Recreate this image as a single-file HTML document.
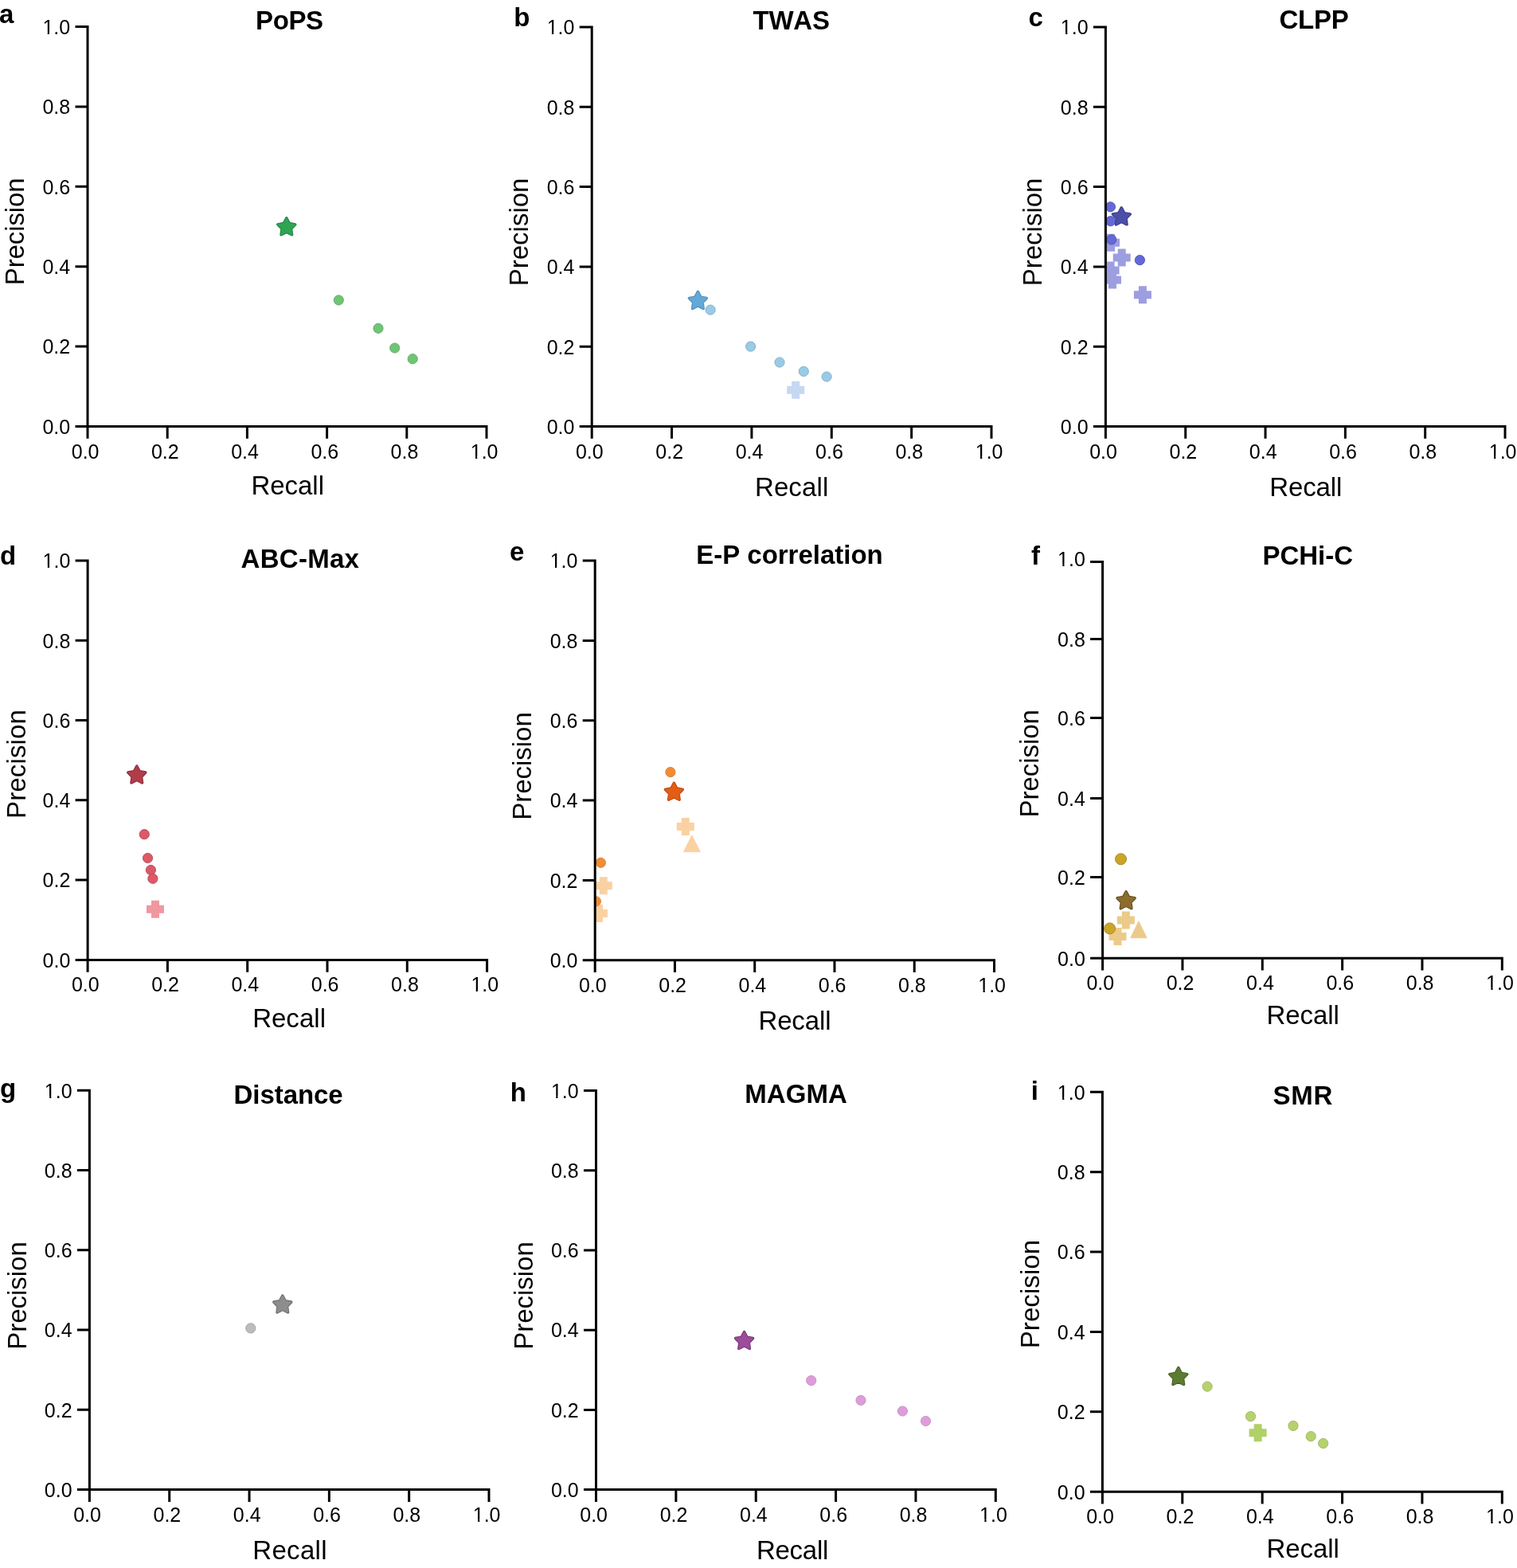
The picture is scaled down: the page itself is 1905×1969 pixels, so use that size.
<!DOCTYPE html>
<html><head><meta charset="utf-8"><title>Precision-recall panels</title>
<style>
html,body{margin:0;padding:0;background:#fff;}
body{width:1905px;height:1969px;overflow:hidden;}
svg{display:block;}
text{font-kerning:none;font-feature-settings:'kern' 0;}
.t{font-family:'Liberation Sans', Arial, Helvetica, sans-serif;font-size:25px;fill:#000;}
.l{font-family:'Liberation Sans', Arial, Helvetica, sans-serif;font-size:33px;fill:#000;}
.b{font-family:'Liberation Sans', Arial, Helvetica, sans-serif;font-size:33px;font-weight:bold;fill:#000;}
</style></head><body>
<svg width="1905" height="1969" viewBox="0 0 1905 1969">
<rect width="1905" height="1969" fill="#fff"/>
<clipPath id="clipa"><rect x="110" y="-6.4" width="541" height="541.9"/></clipPath>
<g clip-path="url(#clipa)">
<circle cx="425.3" cy="376.9" r="6.1" fill="#6cc672" stroke="#72a974" stroke-width="1"/>
<circle cx="475" cy="412.3" r="6.1" fill="#6cc672" stroke="#72a974" stroke-width="1"/>
<circle cx="495.7" cy="437" r="6.1" fill="#6cc672" stroke="#72a974" stroke-width="1"/>
<circle cx="518.2" cy="450.7" r="6.1" fill="#6cc672" stroke="#72a974" stroke-width="1"/>
<path d="M359.8 273.8 L363.33 280.55 L370.83 281.82 L365.51 287.25 L366.62 294.78 L359.8 291.4 L352.98 294.78 L354.09 287.25 L348.77 281.82 L356.27 280.55 Z" fill="#22834a" stroke="#22834a" stroke-width="3.4" stroke-linejoin="round"/><path d="M359.8 273.8 L363.33 280.55 L370.83 281.82 L365.51 287.25 L366.62 294.78 L359.8 291.4 L352.98 294.78 L354.09 287.25 L348.77 281.82 L356.27 280.55 Z" fill="#2fa552" stroke="#2fa552" stroke-width="1.3" stroke-linejoin="round"/>
</g>
<path d="M110 32.1 V537 M108.5 535.5 H612.5 M94.5 535.5 H110 M94.5 435.12 H110 M94.5 334.74 H110 M94.5 234.36 H110 M94.5 133.98 H110 M94.5 33.6 H110 M110 535.5 V550.8 M210.2 535.5 V550.8 M310.4 535.5 V550.8 M410.6 535.5 V550.8 M510.8 535.5 V550.8 M611 535.5 V550.8" stroke="#000" stroke-width="3" fill="none" stroke-linecap="butt"/>
<clipPath id="clipb"><rect x="743.2" y="-6" width="541.8" height="541.5"/></clipPath>
<g clip-path="url(#clipb)">
<path d="M876.4 366.4 L879.93 373.15 L887.43 374.42 L882.11 379.85 L883.22 387.38 L876.4 384 L869.58 387.38 L870.69 379.85 L865.37 374.42 L872.87 373.15 Z" fill="#4f8cbb" stroke="#4f8cbb" stroke-width="3.4" stroke-linejoin="round"/><path d="M876.4 366.4 L879.93 373.15 L887.43 374.42 L882.11 379.85 L883.22 387.38 L876.4 384 L869.58 387.38 L870.69 379.85 L865.37 374.42 L872.87 373.15 Z" fill="#64a8d8" stroke="#64a8d8" stroke-width="1.3" stroke-linejoin="round"/>
<circle cx="892.1" cy="389.1" r="6.1" fill="#99cae6" stroke="#86b1ca" stroke-width="1"/>
<circle cx="942.6" cy="435.1" r="6.1" fill="#99cae6" stroke="#86b1ca" stroke-width="1"/>
<circle cx="979" cy="455" r="6.1" fill="#99cae6" stroke="#86b1ca" stroke-width="1"/>
<circle cx="1009.3" cy="466.4" r="6.1" fill="#99cae6" stroke="#86b1ca" stroke-width="1"/>
<circle cx="1038.1" cy="473" r="6.1" fill="#99cae6" stroke="#86b1ca" stroke-width="1"/>
<path d="M994.2 478.7 L1004.2 478.7 L1004.2 484.7 L1010.2 484.7 L1010.2 494.7 L1004.2 494.7 L1004.2 500.7 L994.2 500.7 L994.2 494.7 L988.2 494.7 L988.2 484.7 L994.2 484.7 Z" fill="#c6d7f2"/>
</g>
<path d="M743.2 32.5 V537 M741.7 535.5 H1246.5 M727.7 535.5 H743.2 M727.7 435.2 H743.2 M727.7 334.9 H743.2 M727.7 234.6 H743.2 M727.7 134.3 H743.2 M727.7 34 H743.2 M743.2 535.5 V550.8 M843.56 535.5 V550.8 M943.92 535.5 V550.8 M1044.28 535.5 V550.8 M1144.64 535.5 V550.8 M1245 535.5 V550.8" stroke="#000" stroke-width="3" fill="none" stroke-linecap="butt"/>
<clipPath id="clipc"><rect x="1388.4" y="-6" width="541.6" height="541.5"/></clipPath>
<g clip-path="url(#clipc)">
<path d="M1390 293.8 L1400 293.8 L1400 299.8 L1406 299.8 L1406 309.8 L1400 309.8 L1400 315.8 L1390 315.8 L1390 309.8 L1384 309.8 L1384 299.8 L1390 299.8 Z" fill="#9c9ee0"/>
<path d="M1403.7 312.5 L1413.7 312.5 L1413.7 318.5 L1419.7 318.5 L1419.7 328.5 L1413.7 328.5 L1413.7 334.5 L1403.7 334.5 L1403.7 328.5 L1397.7 328.5 L1397.7 318.5 L1403.7 318.5 Z" fill="#9c9ee0"/>
<path d="M1389.6 328.4 L1399.6 328.4 L1399.6 334.4 L1405.6 334.4 L1405.6 344.4 L1399.6 344.4 L1399.6 350.4 L1389.6 350.4 L1389.6 344.4 L1383.6 344.4 L1383.6 334.4 L1389.6 334.4 Z" fill="#9c9ee0"/>
<path d="M1392 340.5 L1402 340.5 L1402 346.5 L1408 346.5 L1408 356.5 L1402 356.5 L1402 362.5 L1392 362.5 L1392 356.5 L1386 356.5 L1386 346.5 L1392 346.5 Z" fill="#9c9ee0"/>
<path d="M1429.9 359.2 L1439.9 359.2 L1439.9 365.2 L1445.9 365.2 L1445.9 375.2 L1439.9 375.2 L1439.9 381.2 L1429.9 381.2 L1429.9 375.2 L1423.9 375.2 L1423.9 365.2 L1429.9 365.2 Z" fill="#9c9ee0"/>
<circle cx="1394.4" cy="259.8" r="6.1" fill="#6468d8" stroke="#5558ae" stroke-width="1"/>
<circle cx="1394.6" cy="277.7" r="6.1" fill="#6468d8" stroke="#5558ae" stroke-width="1"/>
<circle cx="1395.7" cy="300.9" r="6.1" fill="#6468d8" stroke="#5558ae" stroke-width="1"/>
<circle cx="1431.4" cy="326.6" r="6.1" fill="#6468d8" stroke="#5558ae" stroke-width="1"/>
<path d="M1408.3 260.9 L1411.83 267.65 L1419.33 268.92 L1414.01 274.35 L1415.12 281.88 L1408.3 278.5 L1401.48 281.88 L1402.59 274.35 L1397.27 268.92 L1404.77 267.65 Z" fill="#383b88" stroke="#383b88" stroke-width="3.4" stroke-linejoin="round"/><path d="M1408.3 260.9 L1411.83 267.65 L1419.33 268.92 L1414.01 274.35 L1415.12 281.88 L1408.3 278.5 L1401.48 281.88 L1402.59 274.35 L1397.27 268.92 L1404.77 267.65 Z" fill="#4c4fa8" stroke="#4c4fa8" stroke-width="1.3" stroke-linejoin="round"/>
</g>
<path d="M1388.4 32.5 V537 M1386.9 535.5 H1891.5 M1372.9 535.5 H1388.4 M1372.9 435.2 H1388.4 M1372.9 334.9 H1388.4 M1372.9 234.6 H1388.4 M1372.9 134.3 H1388.4 M1372.9 34 H1388.4 M1388.4 535.5 V550.8 M1488.72 535.5 V550.8 M1589.04 535.5 V550.8 M1689.36 535.5 V550.8 M1789.68 535.5 V550.8 M1890 535.5 V550.8" stroke="#000" stroke-width="3" fill="none" stroke-linecap="butt"/>
<clipPath id="clipd"><rect x="110.1" y="663.9" width="541.5" height="541.5"/></clipPath>
<g clip-path="url(#clipd)">
<circle cx="181.3" cy="1047.7" r="6.1" fill="#de5866" stroke="#b5505e" stroke-width="1"/>
<circle cx="185.5" cy="1077.5" r="6.1" fill="#de5866" stroke="#b5505e" stroke-width="1"/>
<circle cx="189.4" cy="1092.5" r="6.1" fill="#de5866" stroke="#b5505e" stroke-width="1"/>
<circle cx="191.9" cy="1103.3" r="6.1" fill="#de5866" stroke="#b5505e" stroke-width="1"/>
<path d="M190 1130.8 L200 1130.8 L200 1136.8 L206 1136.8 L206 1146.8 L200 1146.8 L200 1152.8 L190 1152.8 L190 1146.8 L184 1146.8 L184 1136.8 L190 1136.8 Z" fill="#ef98a0"/>
<path d="M171.8 962 L175.33 968.75 L182.83 970.02 L177.51 975.45 L178.62 982.98 L171.8 979.6 L164.98 982.98 L166.09 975.45 L160.77 970.02 L168.27 968.75 Z" fill="#8a2d38" stroke="#8a2d38" stroke-width="3.4" stroke-linejoin="round"/><path d="M171.8 962 L175.33 968.75 L182.83 970.02 L177.51 975.45 L178.62 982.98 L171.8 979.6 L164.98 982.98 L166.09 975.45 L160.77 970.02 L168.27 968.75 Z" fill="#b23d4a" stroke="#b23d4a" stroke-width="1.3" stroke-linejoin="round"/>
</g>
<path d="M110.1 702.4 V1206.9 M108.6 1205.4 H613.1 M94.6 1205.4 H110.1 M94.6 1105.1 H110.1 M94.6 1004.8 H110.1 M94.6 904.5 H110.1 M94.6 804.2 H110.1 M94.6 703.9 H110.1 M110.1 1205.4 V1220.7 M210.4 1205.4 V1220.7 M310.7 1205.4 V1220.7 M411 1205.4 V1220.7 M511.3 1205.4 V1220.7 M611.6 1205.4 V1220.7" stroke="#000" stroke-width="3" fill="none" stroke-linecap="butt"/>
<clipPath id="clipe"><rect x="747.2" y="664.1" width="541.3" height="541.7"/></clipPath>
<g clip-path="url(#clipe)">
<path d="M855.8 1027 L865.8 1027 L865.8 1033 L871.8 1033 L871.8 1043 L865.8 1043 L865.8 1049 L855.8 1049 L855.8 1043 L849.8 1043 L849.8 1033 L855.8 1033 Z" fill="#fad1a2"/>
<path d="M868.9 1048.9 L879.3 1069.7 L858.5 1069.7 Z" fill="#fad1a2" stroke="#fad1a2" stroke-width="1" stroke-linejoin="round"/>
<path d="M752.8 1101.2 L762.8 1101.2 L762.8 1107.2 L768.8 1107.2 L768.8 1117.2 L762.8 1117.2 L762.8 1123.2 L752.8 1123.2 L752.8 1117.2 L746.8 1117.2 L746.8 1107.2 L752.8 1107.2 Z" fill="#fad1a2"/>
<path d="M747 1136 L757 1136 L757 1142 L763 1142 L763 1152 L757 1152 L757 1158 L747 1158 L747 1152 L741 1152 L741 1142 L747 1142 Z" fill="#fad1a2"/>
<circle cx="841.9" cy="969.6" r="6.1" fill="#f28c34" stroke="#dc843c" stroke-width="1"/>
<circle cx="754.4" cy="1083.3" r="6.1" fill="#f28c34" stroke="#dc843c" stroke-width="1"/>
<circle cx="748.4" cy="1131.8" r="6.1" fill="#f28c34" stroke="#dc843c" stroke-width="1"/>
<path d="M846.4 983.3 L849.93 990.05 L857.43 991.32 L852.11 996.75 L853.22 1004.28 L846.4 1000.9 L839.58 1004.28 L840.69 996.75 L835.37 991.32 L842.87 990.05 Z" fill="#bb4a0c" stroke="#bb4a0c" stroke-width="3.4" stroke-linejoin="round"/><path d="M846.4 983.3 L849.93 990.05 L857.43 991.32 L852.11 996.75 L853.22 1004.28 L846.4 1000.9 L839.58 1004.28 L840.69 996.75 L835.37 991.32 L842.87 990.05 Z" fill="#e45d14" stroke="#e45d14" stroke-width="1.3" stroke-linejoin="round"/>
</g>
<path d="M747.2 702.6 V1207.3 M745.7 1205.8 H1250 M731.7 1205.8 H747.2 M731.7 1105.46 H747.2 M731.7 1005.12 H747.2 M731.7 904.78 H747.2 M731.7 804.44 H747.2 M731.7 704.1 H747.2 M747.2 1205.8 V1221.1 M847.46 1205.8 V1221.1 M947.72 1205.8 V1221.1 M1047.98 1205.8 V1221.1 M1148.24 1205.8 V1221.1 M1248.5 1205.8 V1221.1" stroke="#000" stroke-width="3" fill="none" stroke-linecap="butt"/>
<clipPath id="clipf"><rect x="1384.6" y="665.5" width="541.7" height="537.7"/></clipPath>
<g clip-path="url(#clipf)">
<path d="M1408.8 1144.4 L1418.8 1144.4 L1418.8 1150.4 L1424.8 1150.4 L1424.8 1160.4 L1418.8 1160.4 L1418.8 1166.4 L1408.8 1166.4 L1408.8 1160.4 L1402.8 1160.4 L1402.8 1150.4 L1408.8 1150.4 Z" fill="#ecca8a"/>
<path d="M1429.9 1156.9 L1440 1177.7 L1419.8 1177.7 Z" fill="#ecca8a" stroke="#ecca8a" stroke-width="1" stroke-linejoin="round"/>
<path d="M1398.5 1165 L1408.5 1165 L1408.5 1171 L1414.5 1171 L1414.5 1181 L1408.5 1181 L1408.5 1187 L1398.5 1187 L1398.5 1181 L1392.5 1181 L1392.5 1171 L1398.5 1171 Z" fill="#ecca8a"/>
<circle cx="1407.5" cy="1078.8" r="7" fill="#cba528" stroke="#aa8c2c" stroke-width="1"/>
<circle cx="1393.6" cy="1165.9" r="7" fill="#cba528" stroke="#aa8c2c" stroke-width="1"/>
<path d="M1414.1 1119.7 L1417.63 1126.45 L1425.13 1127.72 L1419.81 1133.15 L1420.92 1140.68 L1414.1 1137.3 L1407.28 1140.68 L1408.39 1133.15 L1403.07 1127.72 L1410.57 1126.45 Z" fill="#5c4a1e" stroke="#5c4a1e" stroke-width="3.4" stroke-linejoin="round"/><path d="M1414.1 1119.7 L1417.63 1126.45 L1425.13 1127.72 L1419.81 1133.15 L1420.92 1140.68 L1414.1 1137.3 L1407.28 1140.68 L1408.39 1133.15 L1403.07 1127.72 L1410.57 1126.45 Z" fill="#8e6c2c" stroke="#8e6c2c" stroke-width="1.3" stroke-linejoin="round"/>
</g>
<path d="M1384.6 704 V1204.7 M1383.1 1203.2 H1887.8 M1369.1 1203.2 H1384.6 M1369.1 1101.5 H1384.6 M1369.1 1002.5 H1384.6 M1369.1 901.4 H1384.6 M1369.1 802.6 H1384.6 M1369.1 705.6 H1384.6 M1384.6 1203.2 V1218.5 M1484.94 1203.2 V1218.5 M1585.28 1203.2 V1218.5 M1685.62 1203.2 V1218.5 M1785.96 1203.2 V1218.5 M1886.3 1203.2 V1218.5" stroke="#000" stroke-width="3" fill="none" stroke-linecap="butt"/>
<clipPath id="clipg"><rect x="112.4" y="1329.2" width="541.6" height="541.4"/></clipPath>
<g clip-path="url(#clipg)">
<circle cx="314.8" cy="1667.9" r="6.1" fill="#bcbcbc" stroke="#a4a4a4" stroke-width="1"/>
<path d="M354.8 1627 L358.33 1633.75 L365.83 1635.02 L360.51 1640.45 L361.62 1647.98 L354.8 1644.6 L347.98 1647.98 L349.09 1640.45 L343.77 1635.02 L351.27 1633.75 Z" fill="#6c6c6c" stroke="#6c6c6c" stroke-width="3.4" stroke-linejoin="round"/><path d="M354.8 1627 L358.33 1633.75 L365.83 1635.02 L360.51 1640.45 L361.62 1647.98 L354.8 1644.6 L347.98 1647.98 L349.09 1640.45 L343.77 1635.02 L351.27 1633.75 Z" fill="#8d8d8d" stroke="#8d8d8d" stroke-width="1.3" stroke-linejoin="round"/>
</g>
<path d="M112.4 1367.7 V1872.1 M110.9 1870.6 H615.5 M96.9 1870.6 H112.4 M96.9 1770.32 H112.4 M96.9 1670.04 H112.4 M96.9 1569.76 H112.4 M96.9 1469.48 H112.4 M96.9 1369.2 H112.4 M112.4 1870.6 V1885.9 M212.72 1870.6 V1885.9 M313.04 1870.6 V1885.9 M413.36 1870.6 V1885.9 M513.68 1870.6 V1885.9 M614 1870.6 V1885.9" stroke="#000" stroke-width="3" fill="none" stroke-linecap="butt"/>
<clipPath id="cliph"><rect x="748.5" y="1329.5" width="541.8" height="541.1"/></clipPath>
<g clip-path="url(#cliph)">
<circle cx="1018.7" cy="1733.6" r="6.1" fill="#df9cdc" stroke="#c596c4" stroke-width="1"/>
<circle cx="1081" cy="1758.4" r="6.1" fill="#df9cdc" stroke="#c596c4" stroke-width="1"/>
<circle cx="1133.4" cy="1772" r="6.1" fill="#df9cdc" stroke="#c596c4" stroke-width="1"/>
<circle cx="1162.5" cy="1784.5" r="6.1" fill="#df9cdc" stroke="#c596c4" stroke-width="1"/>
<path d="M934.6 1672.5 L938.13 1679.25 L945.63 1680.52 L940.31 1685.95 L941.42 1693.48 L934.6 1690.1 L927.78 1693.48 L928.89 1685.95 L923.57 1680.52 L931.07 1679.25 Z" fill="#773577" stroke="#773577" stroke-width="3.4" stroke-linejoin="round"/><path d="M934.6 1672.5 L938.13 1679.25 L945.63 1680.52 L940.31 1685.95 L941.42 1693.48 L934.6 1690.1 L927.78 1693.48 L928.89 1685.95 L923.57 1680.52 L931.07 1679.25 Z" fill="#9c4c9a" stroke="#9c4c9a" stroke-width="1.3" stroke-linejoin="round"/>
</g>
<path d="M748.5 1368 V1872.1 M747 1870.6 H1251.8 M733 1870.6 H748.5 M733 1770.38 H748.5 M733 1670.16 H748.5 M733 1569.94 H748.5 M733 1469.72 H748.5 M733 1369.5 H748.5 M748.5 1870.6 V1885.9 M848.86 1870.6 V1885.9 M949.22 1870.6 V1885.9 M1049.58 1870.6 V1885.9 M1149.94 1870.6 V1885.9 M1250.3 1870.6 V1885.9" stroke="#000" stroke-width="3" fill="none" stroke-linecap="butt"/>
<clipPath id="clipi"><rect x="1384.4" y="1331.3" width="541.9" height="541.9"/></clipPath>
<g clip-path="url(#clipi)">
<path d="M1574.6 1788.2 L1584.6 1788.2 L1584.6 1794.2 L1590.6 1794.2 L1590.6 1804.2 L1584.6 1804.2 L1584.6 1810.2 L1574.6 1810.2 L1574.6 1804.2 L1568.6 1804.2 L1568.6 1794.2 L1574.6 1794.2 Z" fill="#b0d068"/>
<circle cx="1516.1" cy="1741.1" r="6.1" fill="#b5d26c" stroke="#a2b86c" stroke-width="1"/>
<circle cx="1570.5" cy="1778.6" r="6.1" fill="#b5d26c" stroke="#a2b86c" stroke-width="1"/>
<circle cx="1624" cy="1790.4" r="6.1" fill="#b5d26c" stroke="#a2b86c" stroke-width="1"/>
<circle cx="1646.2" cy="1803.7" r="6.1" fill="#b5d26c" stroke="#a2b86c" stroke-width="1"/>
<circle cx="1661.6" cy="1812.5" r="6.1" fill="#b5d26c" stroke="#a2b86c" stroke-width="1"/>
<path d="M1479.8 1717.6 L1483.33 1724.35 L1490.83 1725.62 L1485.51 1731.05 L1486.62 1738.58 L1479.8 1735.2 L1472.98 1738.58 L1474.09 1731.05 L1468.77 1725.62 L1476.27 1724.35 Z" fill="#465e21" stroke="#465e21" stroke-width="3.4" stroke-linejoin="round"/><path d="M1479.8 1717.6 L1483.33 1724.35 L1490.83 1725.62 L1485.51 1731.05 L1486.62 1738.58 L1479.8 1735.2 L1472.98 1738.58 L1474.09 1731.05 L1468.77 1725.62 L1476.27 1724.35 Z" fill="#5c7c32" stroke="#5c7c32" stroke-width="1.3" stroke-linejoin="round"/>
</g>
<path d="M1384.4 1369.8 V1874.7 M1382.9 1873.2 H1887.8 M1368.9 1873.2 H1384.4 M1368.9 1772.82 H1384.4 M1368.9 1672.44 H1384.4 M1368.9 1572.06 H1384.4 M1368.9 1471.68 H1384.4 M1368.9 1371.3 H1384.4 M1384.4 1873.2 V1888.5 M1484.78 1873.2 V1888.5 M1585.16 1873.2 V1888.5 M1685.54 1873.2 V1888.5 M1785.92 1873.2 V1888.5 M1886.3 1873.2 V1888.5" stroke="#000" stroke-width="3" fill="none" stroke-linecap="butt"/>
<text x="88.2" y="544.8" text-anchor="end" class="t">0.0</text>
<text x="88.2" y="444.42" text-anchor="end" class="t">0.2</text>
<text x="88.2" y="344.04" text-anchor="end" class="t">0.4</text>
<text x="88.2" y="243.66" text-anchor="end" class="t">0.6</text>
<text x="88.2" y="143.28" text-anchor="end" class="t">0.8</text>
<clipPath id="k1ya"><rect x="51.45" y="12.9" width="38.75" height="27.23"/><rect x="59.73" y="40.03" width="2.21" height="5.87"/><rect x="67.35" y="12.9" width="22.85" height="36"/></clipPath><text x="88.2" y="42.9" text-anchor="end" class="t" clip-path="url(#k1ya)">1.0</text>
<text x="107.16" y="575.5" text-anchor="middle" class="t">0.0</text>
<text x="207.36" y="575.5" text-anchor="middle" class="t">0.2</text>
<text x="307.56" y="575.5" text-anchor="middle" class="t">0.4</text>
<text x="407.76" y="575.5" text-anchor="middle" class="t">0.6</text>
<text x="507.96" y="575.5" text-anchor="middle" class="t">0.8</text>
<clipPath id="k1xa"><rect x="588.78" y="545.5" width="38.75" height="27.23"/><rect x="597.07" y="572.63" width="2.21" height="5.87"/><rect x="604.69" y="545.5" width="22.85" height="36"/></clipPath><text x="608.16" y="575.5" text-anchor="middle" class="t" clip-path="url(#k1xa)">1.0</text>
<text x="-0.9" y="28.5" class="b">a</text>
<text x="363.55" y="36.5" text-anchor="middle" class="b" textLength="85.12" lengthAdjust="spacing">PoPS</text>
<text x="361.25" y="621.4" text-anchor="middle" class="l" textLength="91.45" lengthAdjust="spacing">Recall</text>
<text transform="translate(30 290.8) rotate(-90)" text-anchor="middle" class="l" textLength="134.78" lengthAdjust="spacing">Precision</text>
<text x="721.4" y="544.8" text-anchor="end" class="t">0.0</text>
<text x="721.4" y="444.5" text-anchor="end" class="t">0.2</text>
<text x="721.4" y="344.2" text-anchor="end" class="t">0.4</text>
<text x="721.4" y="243.9" text-anchor="end" class="t">0.6</text>
<text x="721.4" y="143.6" text-anchor="end" class="t">0.8</text>
<clipPath id="k1yb"><rect x="684.65" y="13.3" width="38.75" height="27.23"/><rect x="692.93" y="40.43" width="2.21" height="5.87"/><rect x="700.55" y="13.3" width="22.85" height="36"/></clipPath><text x="721.4" y="43.3" text-anchor="end" class="t" clip-path="url(#k1yb)">1.0</text>
<text x="740.36" y="575.5" text-anchor="middle" class="t">0.0</text>
<text x="840.72" y="575.5" text-anchor="middle" class="t">0.2</text>
<text x="941.08" y="575.5" text-anchor="middle" class="t">0.4</text>
<text x="1041.44" y="575.5" text-anchor="middle" class="t">0.6</text>
<text x="1141.8" y="575.5" text-anchor="middle" class="t">0.8</text>
<clipPath id="k1xb"><rect x="1222.78" y="545.5" width="38.75" height="27.23"/><rect x="1231.07" y="572.63" width="2.21" height="5.87"/><rect x="1238.69" y="545.5" width="22.85" height="36"/></clipPath><text x="1242.16" y="575.5" text-anchor="middle" class="t" clip-path="url(#k1xb)">1.0</text>
<text x="645.2" y="33.1" class="b">b</text>
<text x="993.7" y="37.4" text-anchor="middle" class="b" textLength="96.39" lengthAdjust="spacing">TWAS</text>
<text x="994.1" y="622.5" text-anchor="middle" class="l" textLength="92.35" lengthAdjust="spacing">Recall</text>
<text transform="translate(663.1 291.4) rotate(-90)" text-anchor="middle" class="l" textLength="135.78" lengthAdjust="spacing">Precision</text>
<text x="1366.6" y="544.8" text-anchor="end" class="t">0.0</text>
<text x="1366.6" y="444.5" text-anchor="end" class="t">0.2</text>
<text x="1366.6" y="344.2" text-anchor="end" class="t">0.4</text>
<text x="1366.6" y="243.9" text-anchor="end" class="t">0.6</text>
<text x="1366.6" y="143.6" text-anchor="end" class="t">0.8</text>
<clipPath id="k1yc"><rect x="1329.85" y="13.3" width="38.75" height="27.23"/><rect x="1338.13" y="40.43" width="2.21" height="5.87"/><rect x="1345.75" y="13.3" width="22.85" height="36"/></clipPath><text x="1366.6" y="43.3" text-anchor="end" class="t" clip-path="url(#k1yc)">1.0</text>
<text x="1385.56" y="575.5" text-anchor="middle" class="t">0.0</text>
<text x="1485.88" y="575.5" text-anchor="middle" class="t">0.2</text>
<text x="1586.2" y="575.5" text-anchor="middle" class="t">0.4</text>
<text x="1686.52" y="575.5" text-anchor="middle" class="t">0.6</text>
<text x="1786.84" y="575.5" text-anchor="middle" class="t">0.8</text>
<clipPath id="k1xc"><rect x="1867.78" y="545.5" width="38.75" height="27.23"/><rect x="1876.07" y="572.63" width="2.21" height="5.87"/><rect x="1883.69" y="545.5" width="22.85" height="36"/></clipPath><text x="1887.16" y="575.5" text-anchor="middle" class="t" clip-path="url(#k1xc)">1.0</text>
<text x="1291.5" y="32.7" class="b">c</text>
<text x="1650.1" y="36.2" text-anchor="middle" class="b" textLength="87.25" lengthAdjust="spacing">CLPP</text>
<text x="1639.75" y="622.5" text-anchor="middle" class="l" textLength="91.05" lengthAdjust="spacing">Recall</text>
<text transform="translate(1308.2 291.4) rotate(-90)" text-anchor="middle" class="l" textLength="135.78" lengthAdjust="spacing">Precision</text>
<text x="88.3" y="1214.7" text-anchor="end" class="t">0.0</text>
<text x="88.3" y="1114.4" text-anchor="end" class="t">0.2</text>
<text x="88.3" y="1014.1" text-anchor="end" class="t">0.4</text>
<text x="88.3" y="913.8" text-anchor="end" class="t">0.6</text>
<text x="88.3" y="813.5" text-anchor="end" class="t">0.8</text>
<clipPath id="k1yd"><rect x="51.55" y="683.2" width="38.75" height="27.23"/><rect x="59.83" y="710.33" width="2.21" height="5.87"/><rect x="67.45" y="683.2" width="22.85" height="36"/></clipPath><text x="88.3" y="713.2" text-anchor="end" class="t" clip-path="url(#k1yd)">1.0</text>
<text x="107.26" y="1245.4" text-anchor="middle" class="t">0.0</text>
<text x="207.56" y="1245.4" text-anchor="middle" class="t">0.2</text>
<text x="307.86" y="1245.4" text-anchor="middle" class="t">0.4</text>
<text x="408.16" y="1245.4" text-anchor="middle" class="t">0.6</text>
<text x="508.46" y="1245.4" text-anchor="middle" class="t">0.8</text>
<clipPath id="k1xd"><rect x="589.38" y="1215.4" width="38.75" height="27.23"/><rect x="597.67" y="1242.53" width="2.21" height="5.87"/><rect x="605.29" y="1215.4" width="22.85" height="36"/></clipPath><text x="608.76" y="1245.4" text-anchor="middle" class="t" clip-path="url(#k1xd)">1.0</text>
<text x="-0.1" y="708.5" class="b">d</text>
<text x="376.8" y="713.3" text-anchor="middle" class="b" textLength="148.35" lengthAdjust="spacing">ABC-Max</text>
<text x="363.05" y="1290.3" text-anchor="middle" class="l" textLength="91.85" lengthAdjust="spacing">Recall</text>
<text transform="translate(32.3 959.55) rotate(-90)" text-anchor="middle" class="l" textLength="136.68" lengthAdjust="spacing">Precision</text>
<text x="725.4" y="1215.1" text-anchor="end" class="t">0.0</text>
<text x="725.4" y="1114.76" text-anchor="end" class="t">0.2</text>
<text x="725.4" y="1014.42" text-anchor="end" class="t">0.4</text>
<text x="725.4" y="914.08" text-anchor="end" class="t">0.6</text>
<text x="725.4" y="813.74" text-anchor="end" class="t">0.8</text>
<clipPath id="k1ye"><rect x="688.65" y="683.4" width="38.75" height="27.23"/><rect x="696.93" y="710.53" width="2.21" height="5.87"/><rect x="704.55" y="683.4" width="22.85" height="36"/></clipPath><text x="725.4" y="713.4" text-anchor="end" class="t" clip-path="url(#k1ye)">1.0</text>
<text x="744.36" y="1245.8" text-anchor="middle" class="t">0.0</text>
<text x="844.62" y="1245.8" text-anchor="middle" class="t">0.2</text>
<text x="944.88" y="1245.8" text-anchor="middle" class="t">0.4</text>
<text x="1045.14" y="1245.8" text-anchor="middle" class="t">0.6</text>
<text x="1145.4" y="1245.8" text-anchor="middle" class="t">0.8</text>
<clipPath id="k1xe"><rect x="1226.28" y="1215.8" width="38.75" height="27.23"/><rect x="1234.57" y="1242.93" width="2.21" height="5.87"/><rect x="1242.19" y="1215.8" width="22.85" height="36"/></clipPath><text x="1245.66" y="1245.8" text-anchor="middle" class="t" clip-path="url(#k1xe)">1.0</text>
<text x="639.9" y="704.3" class="b">e</text>
<text x="991.45" y="708.2" text-anchor="middle" class="b" textLength="234.53" lengthAdjust="spacing">E-P correlation</text>
<text x="997.95" y="1293" text-anchor="middle" class="l" textLength="91.05" lengthAdjust="spacing">Recall</text>
<text transform="translate(667.4 962) rotate(-90)" text-anchor="middle" class="l" textLength="135.58" lengthAdjust="spacing">Precision</text>
<text x="1362.8" y="1212.5" text-anchor="end" class="t">0.0</text>
<text x="1362.8" y="1110.8" text-anchor="end" class="t">0.2</text>
<text x="1362.8" y="1011.8" text-anchor="end" class="t">0.4</text>
<text x="1362.8" y="910.7" text-anchor="end" class="t">0.6</text>
<text x="1362.8" y="811.9" text-anchor="end" class="t">0.8</text>
<clipPath id="k1yf"><rect x="1326.05" y="681" width="38.75" height="27.23"/><rect x="1334.33" y="708.13" width="2.21" height="5.87"/><rect x="1341.95" y="681" width="22.85" height="36"/></clipPath><text x="1362.8" y="711" text-anchor="end" class="t" clip-path="url(#k1yf)">1.0</text>
<text x="1381.76" y="1243.2" text-anchor="middle" class="t">0.0</text>
<text x="1482.1" y="1243.2" text-anchor="middle" class="t">0.2</text>
<text x="1582.44" y="1243.2" text-anchor="middle" class="t">0.4</text>
<text x="1682.78" y="1243.2" text-anchor="middle" class="t">0.6</text>
<text x="1783.12" y="1243.2" text-anchor="middle" class="t">0.8</text>
<clipPath id="k1xf"><rect x="1864.08" y="1213.2" width="38.75" height="27.23"/><rect x="1872.37" y="1240.33" width="2.21" height="5.87"/><rect x="1879.99" y="1213.2" width="22.85" height="36"/></clipPath><text x="1883.46" y="1243.2" text-anchor="middle" class="t" clip-path="url(#k1xf)">1.0</text>
<text x="1295.1" y="708.5" class="b">f</text>
<text x="1642.3" y="709.2" text-anchor="middle" class="b" textLength="113.52" lengthAdjust="spacing">PCHi-C</text>
<text x="1636.2" y="1286.3" text-anchor="middle" class="l" textLength="91.35" lengthAdjust="spacing">Recall</text>
<text transform="translate(1304 958.85) rotate(-90)" text-anchor="middle" class="l" textLength="135.48" lengthAdjust="spacing">Precision</text>
<text x="90.6" y="1879.9" text-anchor="end" class="t">0.0</text>
<text x="90.6" y="1779.62" text-anchor="end" class="t">0.2</text>
<text x="90.6" y="1679.34" text-anchor="end" class="t">0.4</text>
<text x="90.6" y="1579.06" text-anchor="end" class="t">0.6</text>
<text x="90.6" y="1478.78" text-anchor="end" class="t">0.8</text>
<clipPath id="k1yg"><rect x="53.85" y="1348.5" width="38.75" height="27.23"/><rect x="62.13" y="1375.63" width="2.21" height="5.87"/><rect x="69.75" y="1348.5" width="22.85" height="36"/></clipPath><text x="90.6" y="1378.5" text-anchor="end" class="t" clip-path="url(#k1yg)">1.0</text>
<text x="109.56" y="1910.6" text-anchor="middle" class="t">0.0</text>
<text x="209.88" y="1910.6" text-anchor="middle" class="t">0.2</text>
<text x="310.2" y="1910.6" text-anchor="middle" class="t">0.4</text>
<text x="410.52" y="1910.6" text-anchor="middle" class="t">0.6</text>
<text x="510.84" y="1910.6" text-anchor="middle" class="t">0.8</text>
<clipPath id="k1xg"><rect x="591.78" y="1880.6" width="38.75" height="27.23"/><rect x="600.07" y="1907.73" width="2.21" height="5.87"/><rect x="607.69" y="1880.6" width="22.85" height="36"/></clipPath><text x="611.16" y="1910.6" text-anchor="middle" class="t" clip-path="url(#k1xg)">1.0</text>
<text x="-0.1" y="1377.5" class="b">g</text>
<text x="362.1" y="1386.4" text-anchor="middle" class="b" textLength="137.22" lengthAdjust="spacing">Distance</text>
<text x="363.9" y="1958.4" text-anchor="middle" class="l" textLength="93.35" lengthAdjust="spacing">Recall</text>
<text transform="translate(32.9 1627) rotate(-90)" text-anchor="middle" class="l" textLength="135.58" lengthAdjust="spacing">Precision</text>
<text x="726.7" y="1879.9" text-anchor="end" class="t">0.0</text>
<text x="726.7" y="1779.68" text-anchor="end" class="t">0.2</text>
<text x="726.7" y="1679.46" text-anchor="end" class="t">0.4</text>
<text x="726.7" y="1579.24" text-anchor="end" class="t">0.6</text>
<text x="726.7" y="1479.02" text-anchor="end" class="t">0.8</text>
<clipPath id="k1yh"><rect x="689.95" y="1348.8" width="38.75" height="27.23"/><rect x="698.23" y="1375.93" width="2.21" height="5.87"/><rect x="705.85" y="1348.8" width="22.85" height="36"/></clipPath><text x="726.7" y="1378.8" text-anchor="end" class="t" clip-path="url(#k1yh)">1.0</text>
<text x="745.66" y="1910.6" text-anchor="middle" class="t">0.0</text>
<text x="846.02" y="1910.6" text-anchor="middle" class="t">0.2</text>
<text x="946.38" y="1910.6" text-anchor="middle" class="t">0.4</text>
<text x="1046.74" y="1910.6" text-anchor="middle" class="t">0.6</text>
<text x="1147.1" y="1910.6" text-anchor="middle" class="t">0.8</text>
<clipPath id="k1xh"><rect x="1228.08" y="1880.6" width="38.75" height="27.23"/><rect x="1236.37" y="1907.73" width="2.21" height="5.87"/><rect x="1243.99" y="1880.6" width="22.85" height="36"/></clipPath><text x="1247.46" y="1910.6" text-anchor="middle" class="t" clip-path="url(#k1xh)">1.0</text>
<text x="640.8" y="1383.4" class="b">h</text>
<text x="999.55" y="1385.4" text-anchor="middle" class="b" textLength="128.46" lengthAdjust="spacing">MAGMA</text>
<text x="995.15" y="1958.4" text-anchor="middle" class="l" textLength="90.45" lengthAdjust="spacing">Recall</text>
<text transform="translate(668.8 1627) rotate(-90)" text-anchor="middle" class="l" textLength="135.58" lengthAdjust="spacing">Precision</text>
<text x="1362.6" y="1882.5" text-anchor="end" class="t">0.0</text>
<text x="1362.6" y="1782.12" text-anchor="end" class="t">0.2</text>
<text x="1362.6" y="1681.74" text-anchor="end" class="t">0.4</text>
<text x="1362.6" y="1581.36" text-anchor="end" class="t">0.6</text>
<text x="1362.6" y="1480.98" text-anchor="end" class="t">0.8</text>
<clipPath id="k1yi"><rect x="1325.85" y="1350.6" width="38.75" height="27.23"/><rect x="1334.13" y="1377.73" width="2.21" height="5.87"/><rect x="1341.75" y="1350.6" width="22.85" height="36"/></clipPath><text x="1362.6" y="1380.6" text-anchor="end" class="t" clip-path="url(#k1yi)">1.0</text>
<text x="1381.56" y="1913.2" text-anchor="middle" class="t">0.0</text>
<text x="1481.94" y="1913.2" text-anchor="middle" class="t">0.2</text>
<text x="1582.32" y="1913.2" text-anchor="middle" class="t">0.4</text>
<text x="1682.7" y="1913.2" text-anchor="middle" class="t">0.6</text>
<text x="1783.08" y="1913.2" text-anchor="middle" class="t">0.8</text>
<clipPath id="k1xi"><rect x="1864.08" y="1883.2" width="38.75" height="27.23"/><rect x="1872.37" y="1910.33" width="2.21" height="5.87"/><rect x="1879.99" y="1883.2" width="22.85" height="36"/></clipPath><text x="1883.46" y="1913.2" text-anchor="middle" class="t" clip-path="url(#k1xi)">1.0</text>
<text x="1294.8" y="1381" class="b">i</text>
<text x="1635.9" y="1386.8" text-anchor="middle" class="b" textLength="74.96" lengthAdjust="spacing">SMR</text>
<text x="1636.2" y="1955.8" text-anchor="middle" class="l" textLength="91.35" lengthAdjust="spacing">Recall</text>
<text transform="translate(1305 1625.05) rotate(-90)" text-anchor="middle" class="l" textLength="136.48" lengthAdjust="spacing">Precision</text>
</svg>
</body></html>
